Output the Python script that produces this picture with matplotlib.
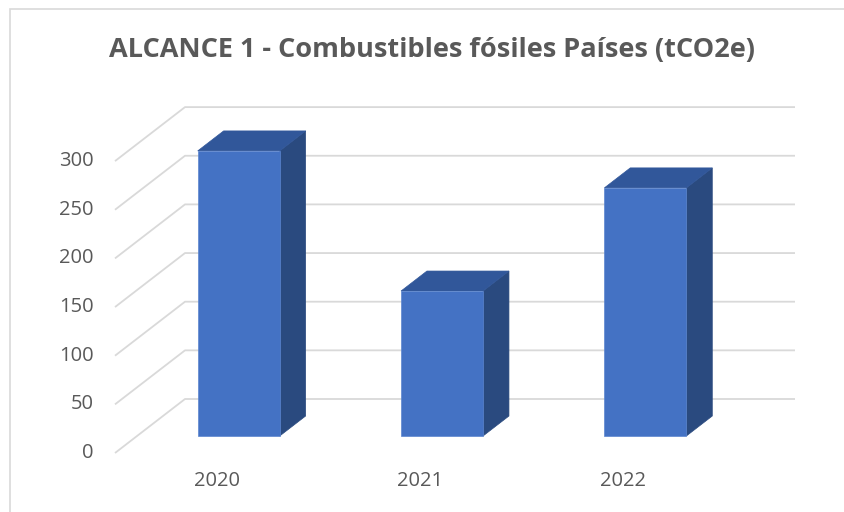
import matplotlib
matplotlib.use("Agg")
import matplotlib.pyplot as plt
from matplotlib.patches import Rectangle, Polygon

# data
years = ["2020", "2021", "2022"]
values = [293, 149, 255]
ticks = [0, 50, 100, 150, 200, 250, 300]
title = "ALCANCE 1 - Combustibles fósiles Países (tCO2e)"

FRONT = "#4472C4"
TOP = "#31579A"
SIDE = "#2A4A7F"
GRID = "#D9D9D9"
TXT = "#595959"

W, H = 845, 512
fig = plt.figure(figsize=(W / 100, H / 100), dpi=100)

# pixel geometry of the plot floor / walls
x0_px, x1_px = 115, 725      # front edge of the floor
y0_px = 453                  # value 0 at the front
ppu = 0.973                  # pixels per value unit
dx_px, dy_px = 70, 54        # depth offset front -> back wall
top_px = 95

slot_px = (x1_px - x0_px) / len(years)
DX = dx_px / slot_px
DY = dy_px / ppu

ax = fig.add_axes([x0_px / W, 1 - y0_px / H,
                   (x1_px + dx_px - x0_px) / W, (y0_px - top_px) / H])
ax.set_xlim(-0.5, len(years) - 0.5 + DX)
ax.set_ylim(0, (y0_px - top_px) / ppu)
ax.axis("off")


def proj(c, v, d):
    return (c + d * DX, v + d * DY)


# gridlines: side wall + back wall
for t in ticks:
    pts = [proj(-0.5, t, 0), proj(-0.5, t, 1), proj(len(years) - 0.5, t, 1)]
    ax.plot([p[0] for p in pts], [p[1] for p in pts], color=GRID,
            lw=1.3, solid_capstyle="butt", clip_on=False, zorder=1)
    ax.annotate(str(t), xy=proj(-0.5, t, 0), xytext=(-15.5, 0),
                textcoords="offset points", ha="right", va="center",
                fontsize=14.5, color=TXT, family="Open Sans")

# bars
bw = 82 / slot_px
d0, d1 = 0.315, 0.685
for i, v in enumerate(values):
    l, r = i - bw / 2, i + bw / 2
    side = [proj(r, 0, d0), proj(r, 0, d1), proj(r, v, d1), proj(r, v, d0)]
    top = [proj(l, v, d0), proj(r, v, d0), proj(r, v, d1), proj(l, v, d1)]
    ax.add_patch(Polygon(side, closed=True, fc=SIDE, ec=SIDE, lw=0.5, zorder=3))
    ax.add_patch(Polygon(top, closed=True, fc=TOP, ec=TOP, lw=0.5, zorder=3))
    fx, fy = proj(l, 0, d0)
    ax.add_patch(Rectangle((fx, fy), bw, v, fc=FRONT, ec="#5B85CF", lw=0.5, zorder=4))
    ax.annotate(years[i], xy=proj(i, 0, 0), xytext=(0, -20),
                textcoords="offset points", ha="center", va="center",
                fontsize=14.5, color=TXT, family="Open Sans")

fig.text(432 / W, 1 - 50 / H, title, ha="center", va="center",
         fontsize=19.5, fontweight="bold", color=TXT, family="Open Sans")

# chart border
fig.patches.append(Rectangle((10 / W, -0.1), 1, 1 - 9 / H + 0.1,
                             transform=fig.transFigure, fill=False,
                             ec=GRID, lw=1.2))

fig.savefig("out.png", dpi=100, facecolor="white")
